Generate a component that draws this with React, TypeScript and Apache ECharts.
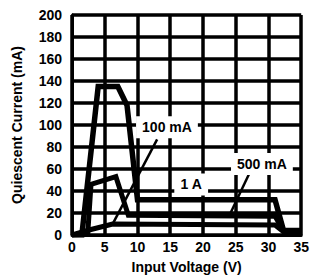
import React, { useEffect, useRef } from "react";
import * as echarts from "echarts";

// Curves: [input voltage (V), quiescent current (mA)]
const load1A: number[][] = [[0, 0], [1.5, 0], [4, 135], [7, 135], [8.4, 118], [10, 32], [31, 32], [32.3, 4], [35, 4]];
const load500mA: number[][] = [[0, 0], [2.4, 1], [2.9, 46], [6.7, 53], [8.6, 18], [31, 17], [32.3, 4], [35, 4]];
const load100mA: number[][] = [[0, 0], [2.9, 5], [6.2, 10], [31, 9], [32.3, 3], [35, 3]];

const xMin = 0, xMax = 35, xStep = 5;
const yMin = 0, yMax = 200, yStep = 20;

// Annotation labels (data coords) and leader lines
const labelTexts = ["100 mA", "500 mA", "1 A"];
const labelAt: number[][] = [[14.5, 98], [29, 64.5], [18.2, 46]];
const leaderFrom: (number[] | null)[] = [[13.0, 87], [27, 55], null];
const leaderTo: (number[] | null)[] = [[6.3, 11], [24.1, 18.7], null];

const FONT = "Liberation Sans, Arial, sans-serif";

export default function App() {
  const ref = useRef<HTMLDivElement>(null);
  useEffect(() => {
    if (!ref.current) return;
    const chart = echarts.init(ref.current, null, { renderer: "svg" });
    const lineSeries = (name: string, data: number[][], w: number) => ({
      name,
      type: "line",
      data,
      showSymbol: false,
      symbol: "none",
      lineStyle: { color: "#000", width: w, join: "miter" },
      z: 5,
    });
    chart.setOption({
      animation: false,
      backgroundColor: "#fff",
      grid: { left: 72, right: 9, top: 15, bottom: 39 },
      xAxis: {
        type: "value",
        min: xMin,
        max: xMax,
        interval: xStep,
        name: "Input Voltage (V)",
        nameLocation: "middle",
        nameGap: 25,
        nameTextStyle: { color: "#000", fontWeight: "bold", fontSize: 14, fontFamily: FONT },
        axisLine: { show: true, lineStyle: { color: "#000", width: 3 } },
        axisTick: { show: false },
        axisLabel: { color: "#000", fontWeight: "bold", fontSize: 14, fontFamily: FONT, margin: 5 },
        splitLine: { show: true, lineStyle: { color: "#000", width: 3.5 } },
      },
      yAxis: {
        type: "value",
        min: yMin,
        max: yMax,
        interval: yStep,
        name: "Quiescent Current (mA)",
        nameLocation: "middle",
        nameGap: 48,
        nameTextStyle: { color: "#000", fontWeight: "bold", fontSize: 14, fontFamily: FONT },
        axisLine: { show: true, lineStyle: { color: "#000", width: 3 } },
        axisTick: { show: false },
        axisLabel: { color: "#000", fontWeight: "bold", fontSize: 14, fontFamily: FONT, margin: 10 },
        splitLine: { show: true, lineStyle: { color: "#000", width: 3.5 } },
      },
      series: [
        lineSeries("1 A", load1A, 5.5),
        lineSeries("500 mA", load500mA, 5),
        lineSeries("100 mA", load100mA, 5),
      ],
    });
    const graphics: any[] = [];
    labelTexts.forEach((t, i) => {
      const f = leaderFrom[i];
      const to = leaderTo[i];
      if (f && to) {
        const p1 = chart.convertToPixel({ gridIndex: 0 }, f) as number[];
        const p2 = chart.convertToPixel({ gridIndex: 0 }, to) as number[];
        graphics.push({
          type: "line",
          z: 100,
          shape: { x1: p1[0], y1: p1[1], x2: p2[0], y2: p2[1] },
          style: { stroke: "#000", lineWidth: 2.5 },
        });
      }
    });
    labelTexts.forEach((t, i) => {
      const p = chart.convertToPixel({ gridIndex: 0 }, labelAt[i]) as number[];
      graphics.push({
        type: "text",
        z: 101,
        x: p[0],
        y: p[1],
        style: {
          text: t,
          fill: "#000",
          font: `bold 14px ${FONT}`,
          align: "center",
          verticalAlign: "middle",
          backgroundColor: "#fff",
          padding: [4, 6, 4, 6],
        },
      });
    });
    chart.setOption({ graphic: graphics });
    return () => chart.dispose();
  }, []);
  return <div ref={ref} style={{ position: "fixed", left: 0, top: 0, width: 312, height: 279 }} />;
}
